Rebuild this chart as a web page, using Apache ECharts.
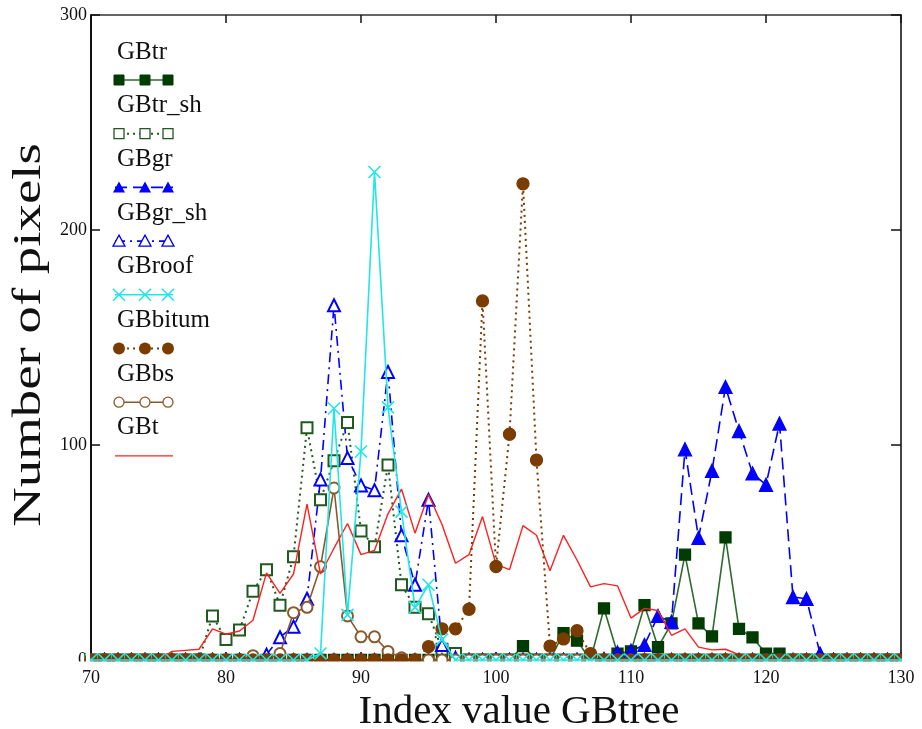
<!DOCTYPE html>
<html>
<head>
<meta charset="utf-8">
<script src="https://cdn.jsdelivr.net/npm/echarts/dist/echarts.min.js"></script>
<style>
html,body{margin:0;padding:0;background:#fff;}
#chart{width:922px;height:729px;}
</style>
</head>
<body>
<div id="chart"></div>
<script>
// ---- data ----
const xValues = [70,71,72,73,74,75,76,77,78,79,80,81,82,83,84,85,86,87,88,89,90,91,92,93,94,95,96,97,98,99,100,101,102,103,104,105,106,107,108,109,110,111,112,113,114,115,116,117,118,119,120,121,122,123,124,125,126,127,128,129,130];
const seriesNames = ['GBtr','GBtr_sh','GBgr','GBgr_sh','GBroof','GBbitum','GBbs','GBt'];
const xTickLabels = ['70','80','90','100','110','120','130'];
const yTickLabels = ['0','100','200','300'];
const xTitle = 'Index value GBtree';
const yTitle = 'Number of pixels';

const GBtr = [0,0,0,0,0,0,0,0,0,0, 0,0,0,0,0,0,0,0,0,0, 0,0,0,0,0,0,0,0,0,0, 0,0,6.5,0,0,12.5,9,0,24,3, 4,25.5,6,17,49,17,11,57,14.5,10.5, 3,3,0,0,0,0,0,0,0,0, 0];
const GBtr_sh = [0,0,0,0,0,0,0,0,0,20.5, 9.5,14,32,42,25.5,48,108,74.5,92.7,110.5, 60,52.7,90.7,35,24.5,21.5,5,3,0,0, 0,0,0,0,0,0,0,0,0,0, 0,0,0,0,0,0,0,0,0,0, 0,0,0,0,0,0,0,0,0,0, 0];
const GBgr = [0,0,0,0,0,0,0,0,0,0, 0,0,0,0,0,0,0,0,0,0, 0,0,0,0,0,0,0,0,0,0, 0,0,0,0,0,0,0,0,0.5,3.5, 4.3,7,20.5,17.8,98,56.8,88,127,106.5,86.8, 81.5,110,29.3,28.5,3,0,0,0,0,0, 0];
const GBgr_sh = [0,0,0,0,0,0,0,0,0,0, 0,0,0.5,2.5,10.6,15.5,28.5,84,165,94, 81.2,79,134,58,35,74.5,7,1,0,0, 0,0,0,0,0,0,0,0,0,0, 0,0,0,0,0,0,0,0,0,0, 0,0,0,0,0,0,0,0,0,0, 0];
const GBroof = [0,0,0,0,0,0,0,0,0,0, 0,0,0,0,0,0,0,3,117,21, 97,227,117.5,69,24.5,35,9.5,0,0,0, 0,0,0,0,0,0,0,0,0,0, 0,0,0,0,0,0,0,0,0,0, 0,0,0,0,0,0,0,0,0,0, 0];
const GBbitum = [0,0,0,0,0,0,0,0,0,0, 0,0,0,0,0,0,0,0,0,0, 0,0,0,0,0,6.2,14.5,14.5,23.6,167, 43.5,105,221.5,93,6.5,9.8,13.6,3,0,0, 0,0,0,0,0,0,0,0,0,0, 0,0,0,0,0,0,0,0,0,0, 0];
const GBbs = [0,0,0,0,0,0,0,0,0,0, 0,0,2,0,3,22,24.5,43.4,80,20.5, 10.8,10.8,4,1,0,0,0,0,0,0, 0,0,0,0,0,0,0,0,0,0, 0,0,0,0,0,0,0,0,0,0, 0,0,0,0,0,0,0,0,0,0, 0];
const GBt = [0,0,0,0,0,0,4,4.5,5,14.5, 12,13.5,18.5,40.5,31,40,72.5,40,52,63.5, 49,51,68,79.5,59,77,63,45,49,66.7, 44.5,42,62.5,58,41.5,58,46.5,34,35.5,34.5, 19.5,24,23,11.5,14.5,6,4.7,5,2.5,1, 0.5,0.3,0.3,0,0,0,0,0,0,0, 0];

const valueSets = [GBtr, GBtr_sh, GBgr, GBgr_sh, GBroof, GBbitum, GBbs, GBt];

// ---- styles ----
const FONT = '"Liberation Serif", "Times New Roman", serif';
const XPATH = 'path://M0,0L10,10M10,0L0,10M5,0L5,0';
const styles = [
  {color:'#003c00', line:'#2f6a2f', width:1.6, dash:'solid', symbol:'rect', size:11, kind:'fillRect', z:3},
  {color:'#1f5a1f', line:'#1f5a1f', width:2, dash:[2,4], symbol:'emptyRect', size:11, kind:'openRect', z:3},
  {color:'#0000ff', line:'#0000ff', width:1.6, dash:[12,6], symbol:'triangle', size:13, kind:'fillTri', z:3},
  {color:'#0000ff', line:'#0000ff', width:1.6, dash:[10,5,2,5], symbol:'emptyTriangle', size:12, kind:'openTri', z:3},
  {color:'#22e6e6', line:'#22e6e6', width:1.6, dash:'solid', symbol:XPATH, size:12, kind:'x', z:7},
  {color:'#7a3c00', line:'#7a3c00', width:2, dash:[2,4], symbol:'circle', size:12, kind:'fillCircle', z:6},
  {color:'#8a5a2c', line:'#8a5a2c', width:1.6, dash:'solid', symbol:'emptyCircle', size:11, kind:'openCircle', z:4},
  {color:'#ff0000', line:'#ff2020', width:1.4, dash:'solid', symbol:'none', size:0, kind:'none', z:5}
];

const series = seriesNames.map((name, k) => {
  const st = styles[k];
  return {
    name: name,
    type: 'line',
    z: st.z,
    data: xValues.map((x, i) => [x, valueSets[k][i]]),
    symbol: st.symbol,
    symbolSize: st.size,
    showSymbol: st.symbol !== 'none',
    showAllSymbol: true,
    clip: false,
    animation: false,
    lineStyle: {color: st.line, width: st.width, type: st.dash},
    itemStyle: {color: st.color, borderColor: st.color, borderWidth: (st.kind==='x')?1.6:1.3, opacity: 1},
    emphasis: {disabled: true}
  };
});

// ---- legend drawn as graphic ----
const graphics = [];
const lgX0 = 115, lgX1 = 173, lgMarks = [119, 145, 168];
seriesNames.forEach((name, k) => {
  const st = styles[k];
  const ty = 52 + 53.7 * k;
  const ly = 80 + 53.7 * k;
  graphics.push({type:'text', x:117, y:ty, style:{text:name, font:'25px ' + FONT, fill:'#111', textVerticalAlign:'middle', textAlign:'left'}, z:100});
  graphics.push({type:'line', shape:{x1:lgX0, y1:ly, x2:lgX1, y2:ly}, style:{stroke:st.line, lineWidth:st.width, lineDash: st.dash==='solid'?null:st.dash}, z:100});
  lgMarks.forEach(cx => {
    const r = 5;
    let el = null;
    switch (st.kind) {
      case 'fillRect': el = {type:'rect', shape:{x:cx-r, y:ly-r, width:2*r, height:2*r}, style:{fill:st.color, stroke:st.color}}; break;
      case 'openRect': el = {type:'rect', shape:{x:cx-r, y:ly-r, width:2*r, height:2*r}, style:{fill:'#fff', stroke:st.color, lineWidth:1.3}}; break;
      case 'fillTri': el = {type:'polygon', shape:{points:[[cx,ly-6],[cx+6,ly+5],[cx-6,ly+5]]}, style:{fill:st.color}}; break;
      case 'openTri': el = {type:'polygon', shape:{points:[[cx,ly-6],[cx+6,ly+5],[cx-6,ly+5]]}, style:{fill:'#fff', stroke:st.color, lineWidth:1.3}}; break;
      case 'x': el = {type:'group', children:[
          {type:'line', shape:{x1:cx-6,y1:ly-6,x2:cx+6,y2:ly+6}, style:{stroke:st.color, lineWidth:1.6}},
          {type:'line', shape:{x1:cx+6,y1:ly-6,x2:cx-6,y2:ly+6}, style:{stroke:st.color, lineWidth:1.6}}]}; break;
      case 'fillCircle': el = {type:'circle', shape:{cx:cx, cy:ly, r:6}, style:{fill:st.color}}; break;
      case 'openCircle': el = {type:'circle', shape:{cx:cx, cy:ly, r:5}, style:{fill:'#fff', stroke:st.color, lineWidth:1.3}}; break;
    }
    if (el) { el.z = 101; graphics.push(el); }
  });
});
// masks that trim markers sitting on the frame (plot-area clipping look)
graphics.push({type:'rect', shape:{x:78, y:661.5, width:840, height:8}, style:{fill:'#fff'}, z:50});
graphics.push({type:'rect', shape:{x:902, y:640, width:16, height:30}, style:{fill:'#fff'}, z:50});
graphics.push({type:'rect', shape:{x:86, y:645, width:4, height:17}, style:{fill:'#fff'}, z:50});
// y-axis title (horizontally stretched like the original rendering)
graphics.push({type:'text', x:29, y:335, rotation:Math.PI/2, scaleX:1.37, scaleY:1,
  style:{text:yTitle, font:'40px ' + FONT, fill:'#111', textAlign:'center', textVerticalAlign:'middle'}, z:100});

const axisLbl = {fontFamily: FONT, fontSize: 18, color: '#111'};
const chart = echarts.init(document.getElementById('chart'), null, {renderer:'canvas'});
chart.setOption({
  animation: false,
  backgroundColor: '#fff',
  grid: {left: 91, right: 21, top: 15, bottom: 69, containLabel: false, outerBoundsMode: 'none'},
  xAxis: [
    {type:'value', min:70, max:130, interval:10, position:'bottom',
     axisLine:{show:true, onZero:false, lineStyle:{color:'#111', width:2}},
     axisTick:{show:true, inside:true, length:8, lineStyle:{color:'#111', width:1.5}},
     axisLabel:Object.assign({margin:9, formatter: v => xTickLabels[xTickLabels.indexOf(String(v))] || ''}, axisLbl),
     splitLine:{show:false},
     name:xTitle, nameLocation:'middle', nameGap:32,
     nameTextStyle:{fontFamily:FONT, fontSize:41, color:'#111', verticalAlign:'top', padding:[0,0,0,46]}},
    {type:'value', min:70, max:130, interval:10, position:'top',
     axisLine:{show:true, onZero:false, lineStyle:{color:'#333', width:1.5}},
     axisTick:{show:true, inside:true, length:8, lineStyle:{color:'#111', width:1.5}},
     axisLabel:{show:false}, splitLine:{show:false}}
  ],
  yAxis: [
    {type:'value', min:0, max:300, interval:100, position:'left',
     axisLine:{show:true, onZero:false, lineStyle:{color:'#111', width:2}},
     axisTick:{show:true, inside:true, length:9, lineStyle:{color:'#111', width:1.5}},
     axisLabel:Object.assign({margin:4, formatter: v => yTickLabels[yTickLabels.indexOf(String(v))] || ''}, axisLbl),
     splitLine:{show:false}},
    {type:'value', min:0, max:300, interval:100, position:'right',
     axisLine:{show:true, onZero:false, lineStyle:{color:'#444', width:2}},
     axisTick:{show:true, inside:true, length:10, lineStyle:{color:'#111', width:1.5}},
     axisLabel:{show:false}, splitLine:{show:false}}
  ],
  tooltip: {show:false},
  series: series,
  graphic: graphics
});
</script>
</body>
</html>
